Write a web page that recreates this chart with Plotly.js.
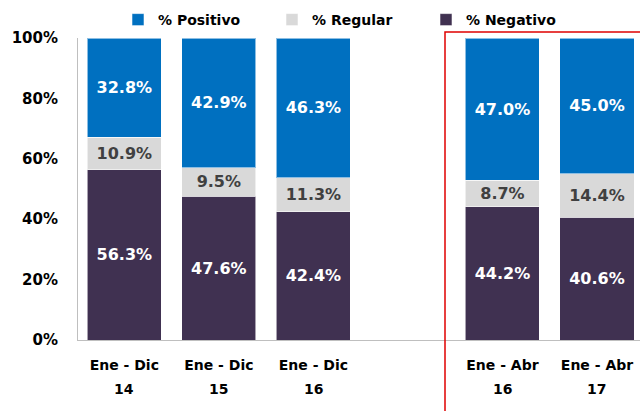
<!DOCTYPE html>
<html>
<head>
<meta charset="utf-8">
<script src="https://cdn.plot.ly/plotly-3.0.1.min.js"></script>
<style>html,body{margin:0;padding:0;background:#fff;}#chart{width:640px;height:411px;}</style>
</head>
<body>
<div id="chart"></div>
<script>
// ---- data ----
var periods = ["Ene - Dic", "Ene - Dic", "Ene - Dic", "Ene - Abr", "Ene - Abr"];
var years = ["14", "15", "16", "16", "17"];
var positivo = [32.8, 42.9, 46.3, 47.0, 45.0];
var regular = [10.9, 9.5, 11.3, 8.7, 14.4];
var negativo = [56.3, 47.6, 42.4, 44.2, 40.6];
var yTickVals = [0, 20, 40, 60, 80, 100];
var yTickText = ["0%", "20%", "40%", "60%", "80%", "100%"];

var categories = periods.map(function (p, i) { return p + " " + years[i]; });
// empty slot between the annual and the Jan-Apr groups
var gapName = "__gap__";
var categoryOrder = categories.slice(0, 3).concat([gapName], categories.slice(3));

var FONT = "DejaVu Sans";
var lineStyle = { color: "rgba(255,255,255,0.55)", width: 1 };

function barTrace(name, values, color, textColor) {
  return {
    type: "bar",
    name: name,
    x: categories,
    y: values,
    marker: { color: color, line: lineStyle },
    texttemplate: "%{y:.1f}%",
    textposition: "inside",
    insidetextanchor: "middle",
    textangle: 0,
    insidetextfont: { family: FONT, size: 16, color: textColor, weight: "bold" },
    hoverinfo: "skip"
  };
}

var traces = [
  barTrace("% Negativo", negativo, "#403151", "#ffffff"),
  barTrace("% Regular", regular, "#D9D9D9", "#404040"),
  barTrace("% Positivo", positivo, "#0070C0", "#ffffff")
];

var annotations = categories.map(function (c, i) {
  return {
    xref: "x", yref: "paper", x: c, y: 0,
    yanchor: "middle", yshift: -49,
    text: years[i], showarrow: false,
    font: { family: FONT, size: 14, color: "#000000", weight: "bold" }
  };
});

var layout = {
  width: 640, height: 411,
  margin: { l: 78, r: 0, t: 38, b: 71, pad: 0, autoexpand: false },
  paper_bgcolor: "#ffffff", plot_bgcolor: "#ffffff",
  barmode: "stack",
  bargap: 0.217,
  font: { family: FONT, size: 14, color: "#000000" },
  showlegend: true,
  legend: {
    orientation: "h", traceorder: "reversed",
    xref: "container", yref: "container",
    x: 118 / 640, xanchor: "left",
    y: 1 - 20 / 411, yanchor: "middle",
    entrywidth: 109, entrywidthmode: "pixels",
    font: { family: FONT, size: 14, color: "#000000", weight: "bold" },
    bgcolor: "rgba(0,0,0,0)"
  },
  xaxis: {
    type: "category",
    categoryorder: "array",
    categoryarray: categoryOrder,
    tickvals: categories,
    ticktext: periods,
    range: [-0.49, 5.455],
    showline: true, linecolor: "#BFBFBF", linewidth: 1,
    showgrid: false, zeroline: false, ticks: "",
    ticklabelstandoff: 12,
    tickfont: { family: FONT, size: 14, color: "#000000", weight: "bold" },
    fixedrange: true
  },
  yaxis: {
    range: [0, 100],
    tickvals: yTickVals,
    ticktext: yTickText,
    showline: true, linecolor: "#BFBFBF", linewidth: 1,
    showgrid: false, zeroline: false, ticks: "",
    ticklabelstandoff: 16,
    tickfont: { family: FONT, size: 15, color: "#000000", weight: "bold" },
    fixedrange: true
  },
  shapes: [{
    type: "rect", xref: "paper", yref: "paper",
    x0: (445 - 78) / 562, x1: 1.05,
    y0: 1 + 6 / 302, y1: -0.4,
    line: { color: "#E00000", width: 1.5 },
    fillcolor: "rgba(0,0,0,0)"
  }],
  annotations: annotations
};

Plotly.newPlot("chart", traces, layout, { displayModeBar: false, staticPlot: true });
</script>
</body>
</html>
